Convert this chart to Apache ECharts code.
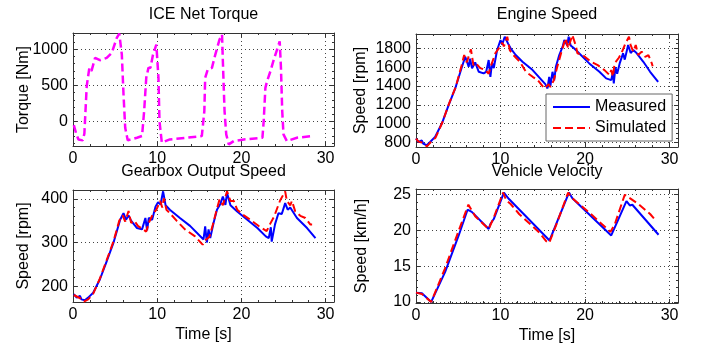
<!DOCTYPE html>
<html><head><meta charset="utf-8">
<script src="https://cdn.jsdelivr.net/npm/echarts@6/dist/echarts.min.js"></script>
<style>html,body{margin:0;padding:0;background:#fff}#c{width:714px;height:347px}</style>
</head><body><div id="c"></div>
<script>
// ---- data: [time s, value] ----
const torque = [[0.1,-50],[0.4,-180],[0.65,-250],[1.15,-262],[1.35,-170],[1.63,489],[1.94,742],[2.2,700],[2.62,880],[3.2,848],[4.0,880],[4.6,949],[5.2,1156],[5.5,1215],[5.8,925],[6.0,373],[6.2,-87],[6.5,-262],[7.6,-225],[8.2,-202],[8.45,144],[8.7,604],[8.96,742],[9.2,745],[9.5,925],[9.9,1064],[10.05,1060],[10.15,604],[10.27,5],[10.55,-294],[11.5,-249],[13.5,-225],[15.3,-202],[15.6,144],[15.7,604],[16.0,718],[16.5,742],[16.9,925],[17.4,1133],[17.7,1202],[17.8,834],[18.0,144],[18.2,-179],[18.5,-318],[19.1,-271],[20.3,-249],[22.5,-225],[22.65,5],[22.85,465],[23.05,558],[23.45,696],[23.85,856],[24.3,1018],[24.55,1110],[24.7,742],[24.85,144],[25.0,-179],[25.4,-271],[26.6,-225],[28.4,-202]];

const engineMeasured = [[0,843],[0.3,806],[0.68,824],[0.85,790],[1.27,771],[1.67,806],[2.26,860],[3.06,1002],[3.86,1197],[4.64,1374],[5.44,1604],[5.83,1711],[6.23,1604],[6.4,1690],[6.63,1587],[7.0,1650],[7.43,1551],[8.0,1534],[8.3,1550],[8.6,1676],[8.8,1498],[9.0,1650],[9.2,1590],[9.6,1782],[10.0,1888],[10.2,1840],[10.5,1923],[10.9,1850],[11.2,1800],[11.8,1729],[12.6,1657],[13.8,1569],[15.3,1420],[15.56,1374],[15.76,1498],[15.9,1400],[16.15,1551],[16.35,1460],[16.55,1604],[16.95,1729],[17.35,1817],[17.55,1888],[17.9,1830],[18.06,1923],[18.3,1830],[18.7,1800],[19.3,1747],[20.5,1640],[21.7,1551],[22.5,1481],[23.1,1463],[23.3,1550],[23.4,1428],[23.6,1600],[23.8,1530],[24.1,1640],[24.5,1747],[24.7,1680],[25.1,1835],[25.4,1750],[25.7,1782],[26.1,1750],[26.9,1657],[27.7,1551],[28.65,1445]];
const engineSimulated = [[0,843],[0.3,810],[0.7,800],[1.0,780],[1.3,760],[1.7,800],[2.3,850],[3.1,1010],[3.9,1210],[4.7,1390],[5.4,1620],[5.7,1729],[6.0,1650],[6.5,1789],[6.8,1620],[7.1,1640],[7.6,1590],[8.2,1570],[8.6,1530],[8.9,1622],[9.4,1750],[9.8,1800],[10.2,1860],[10.4,1820],[10.8,1923],[11.1,1780],[11.5,1730],[12.3,1657],[13.0,1551],[13.8,1498],[14.4,1463],[15.2,1374],[15.4,1356],[15.7,1420],[15.9,1390],[16.3,1460],[16.7,1600],[17.2,1760],[17.7,1906],[18.0,1800],[18.5,1941],[18.9,1830],[19.1,1747],[19.7,1730],[20.7,1657],[21.5,1622],[22.3,1569],[22.9,1516],[23.1,1570],[23.3,1500],[23.5,1640],[24.0,1700],[24.3,1747],[24.7,1835],[25.2,1923],[25.4,1835],[25.7,1765],[26.0,1835],[26.3,1729],[26.7,1765],[27.1,1710],[27.5,1729],[27.9,1640],[28.0,1610]];

const gearMeasured = [[0.1,182],[0.44,174],[0.83,178],[1.0,170],[1.4,168],[1.8,174],[2.4,185],[3.2,216],[4.0,257],[4.8,299],[5.6,352],[6.0,367],[6.3,352],[6.6,362],[6.9,350],[7.6,333],[8.2,330],[8.6,356],[8.8,328],[9.0,356],[9.4,352],[9.8,382],[10.1,392],[10.4,387],[10.7,417],[11.0,385],[11.5,375],[12.7,356],[13.9,338],[15.5,307],[15.7,337],[15.9,300],[16.1,330],[16.3,310],[16.7,345],[17.1,375],[17.5,388],[17.8,405],[18.1,386],[18.3,413],[18.7,385],[19.5,371],[20.7,352],[21.9,333],[22.9,314],[23.25,310],[23.5,335],[23.6,302],[24.0,342],[24.4,367],[24.8,365],[25.2,390],[25.5,375],[25.8,380],[26.6,356],[27.8,333],[28.8,310]];
const gearSimulated = [[0.1,180],[0.5,176],[0.9,172],[1.3,165],[1.8,170],[2.4,183],[3.2,218],[4.0,260],[4.8,302],[5.5,350],[5.9,362],[6.2,348],[6.6,372],[6.9,345],[7.3,350],[7.7,338],[8.3,330],[8.7,325],[9.0,345],[9.5,365],[9.9,375],[10.36,395],[10.6,380],[10.8,401],[11.1,375],[11.6,365],[12.3,350],[13.3,330],[14.5,314],[15.4,295],[15.7,305],[16.2,313],[16.6,340],[17.0,370],[17.4,398],[17.8,385],[18.3,417],[18.7,395],[19.1,395],[19.5,375],[20.3,362],[21.2,350],[22.1,337],[23.0,326],[23.4,342],[23.9,360],[24.4,386],[24.6,396],[25.2,417],[25.4,395],[25.8,385],[26.0,395],[26.4,371],[27.0,361],[27.6,356],[28.2,341],[28.4,341]];

const velMeasured = [[0,11.3],[0.7,11.2],[1.8,10.0],[3.45,14.2],[5.05,19.3],[6.1,22.9],[6.3,23.0],[6.6,22.6],[8.6,20.2],[8.8,20.9],[9.2,21.6],[10.4,25.3],[11.0,24.4],[15.8,18.6],[18.1,25.3],[18.5,24.5],[20.1,22.7],[23.1,19.3],[24.9,24.1],[25.3,23.5],[25.6,23.6],[28.7,19.4]];
const velSimulated = [[0,11.3],[0.7,11.1],[1.8,10.0],[3.4,14.6],[5.0,19.8],[6.2,23.6],[6.5,23.0],[7.0,22.0],[8.6,20.2],[9.2,21.8],[10.3,25.3],[10.7,24.2],[11.2,23.7],[12.2,22.3],[14.6,19.7],[15.4,18.5],[15.76,18.25],[16.5,20.5],[18.0,25.3],[18.4,24.6],[20.5,22.5],[23.0,19.8],[23.5,20.8],[24.7,25.0],[25.2,24.6],[26.3,23.7],[27.7,22.3],[28.45,21.3]];

const titles = ['ICE Net Torque','Engine Speed','Gearbox Output Speed','Vehicle Velocity'];
const yNames = ['Torque [Nm]','Speed [rpm]','Speed [rpm]','Speed [km/h]'];
const xName = 'Time [s]';
const xRange = [0, 31];
const yRanges = [[-340,1225],[753,1952],[164,420],[9.85,25.8]];
const legendNames = ['Measured','Simulated'];

// ---- layout ----
const FONT = '"Liberation Sans", Arial, sans-serif';
const AX = '#333';
const gridBoxes = [
  {left:73, top:33, width:261, height:113},
  {left:416, top:34, width:262, height:113},
  {left:73, top:190, width:261, height:112},
  {left:416, top:189, width:262, height:114}
];
const ySplit = [3, 6, 3, 3];
const yMinor = [5, 4, 5, 5];
const yGap = [41, 47, 41, 46];
const showXName = [false, false, true, true];
const fmt = v => String(v);

const xAxes = [], yAxes = [];
gridBoxes.forEach((g, i) => {
  [false, true].forEach(mirror => {
    xAxes.push({
      type:'value', gridIndex:i, position: mirror ? 'top' : 'bottom',
      min:xRange[0], max:xRange[1], splitNumber:3,
      name: (!mirror && showXName[i]) ? xName : '', nameLocation:'middle', nameGap:25,
      nameMoveOverlap:false,
      nameTextStyle:{fontSize:16, fontFamily:FONT, color:'#000'},
      axisLine:{show:true, onZero:false, lineStyle:{color:AX, width:1}},
      axisTick:{show:true, inside:true, length:4, lineStyle:{color:AX}},
      minorTick:{show:true, splitNumber:5, length:2, lineStyle:{color:AX}},
      axisLabel:{show:!mirror, margin:5, fontSize:16, fontFamily:FONT, color:'#000', showMinLabel:true, showMaxLabel:false, formatter:fmt},
      splitLine:{show:!mirror, lineStyle:{type:[1,3], color:'#444', width:1}}
    });
    yAxes.push({
      type:'value', gridIndex:i, position: mirror ? 'right' : 'left',
      min:yRanges[i][0], max:yRanges[i][1], splitNumber:ySplit[i],
      name: mirror ? '' : yNames[i], nameLocation:'middle', nameGap:yGap[i],
      nameMoveOverlap:false,
      nameTextStyle:{fontSize:16, fontFamily:FONT, color:'#000'},
      axisLine:{show:true, onZero:false, lineStyle:{color:AX, width:1}},
      axisTick:{show:true, inside:true, length:4, lineStyle:{color:AX}},
      minorTick:{show:true, splitNumber:yMinor[i], length:2, lineStyle:{color:AX}},
      axisLabel:{show:!mirror, margin:5, fontSize:16, fontFamily:FONT, color:'#000', showMinLabel:false, showMaxLabel:false, formatter:fmt},
      splitLine:{show:!mirror, lineStyle:{type:[1,3], color:'#444', width:1}}
    });
  });
});

function line(name, data, gi, color, dashed, width) {
  return {
    type:'line', name, data, xAxisIndex: gi*2, yAxisIndex: gi*2,
    showSymbol:false, symbol:'none', animation:false, silent:true,
    lineStyle:{color, width, type: dashed ? [8,4] : 'solid'},
    itemStyle:{color}
  };
}

const series = [
  line('Torque', torque, 0, '#ff00ff', true, 2.5),
  line(legendNames[0], engineMeasured, 1, '#0000ff', false, 2),
  line(legendNames[1], engineSimulated, 1, '#ff0000', true, 2),
  line(legendNames[0], gearMeasured, 2, '#0000ff', false, 2),
  line(legendNames[1], gearSimulated, 2, '#ff0000', true, 2),
  line(legendNames[0], velMeasured, 3, '#0000ff', false, 2),
  line(legendNames[1], velSimulated, 3, '#ff0000', true, 2)
];

const titleY = [15, 15, 172, 172];
const graphic = titles.map((t, i) => ({
  type:'text', x: gridBoxes[i].left + gridBoxes[i].width/2, y: titleY[i],
  style:{text:t, fill:'#000', font:'16px ' + FONT, align:'center', verticalAlign:'middle', textAlign:'center', textVerticalAlign:'middle'}
}));

const chart = echarts.init(document.getElementById('c'), null, {renderer:'canvas'});
chart.setOption({
  animation:false,
  backgroundColor:'#fff',
  grid: gridBoxes.map(g => Object.assign({containLabel:false, outerBoundsMode:'none'}, g)),
  xAxis: xAxes,
  yAxis: yAxes,
  legend: {
    data: legendNames, orient:'vertical', left:546, top:94,
    itemWidth:37, itemHeight:16, itemGap:5, padding:[5,6,5,6],
    backgroundColor:'#fff', borderColor:'#666', borderWidth:1,
    selectedMode:false,
    itemStyle:{color:'rgba(0,0,0,0)', borderColor:'rgba(0,0,0,0)', borderWidth:0},
    textStyle:{fontSize:16, fontFamily:FONT, color:'#000'}
  },
  graphic,
  series
});
</script></body></html>
